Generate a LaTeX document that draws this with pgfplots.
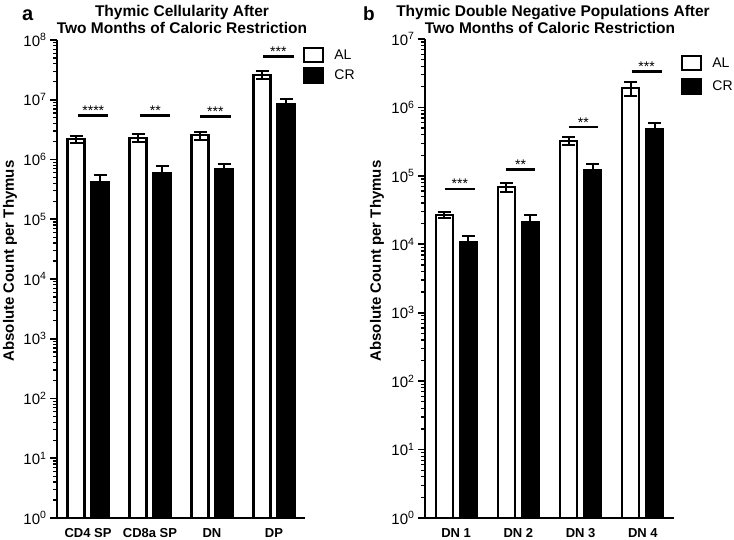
\documentclass[border=0pt]{standalone}
\usepackage{pgfplots}
\pgfplotsset{compat=1.18}
\usepackage{fontspec}
\setmainfont{Liberation Sans}
\pgfplotsset{
  alstyle/.style={draw=black, fill=white, line width=2.2pt, bar shift=-12pt,
    legend image code/.code={\draw[black, fill=white, line width=2.2pt] (0pt,-7pt) rectangle (19pt,7pt);},
    error bars/.cd, y dir=both, y explicit,
    error bar style={line width=2pt, black},
    error mark options={rotate=90, line width=2pt, mark size=6.5pt, black}},
  crstyle/.style={draw=black, fill=black, line width=2.2pt, bar shift=12pt,
    legend image code/.code={\draw[black, fill=black, line width=2.2pt] (0pt,-7pt) rectangle (19pt,7pt);},
    error bars/.cd, y dir=both, y explicit,
    error bar style={line width=2pt, black},
    error mark options={rotate=90, line width=2pt, mark size=6.5pt, black}},
}
\tikzset{sig/.style={font=\fontsize{14}{16}\selectfont, anchor=base, inner sep=0pt}}
\begin{document}
\begin{tikzpicture}[x=1pt,y=1pt]
\useasboundingbox (0pt,0pt) rectangle (734pt,539pt);
% Panel a
\begin{axis}[ymode=log, log basis y=10,
  scale only axis,
  axis x line=bottom, axis y line=left,
  axis line style={line width=2.2pt, -},
  xmin=-0.5, xmax=3.5,
  xtick={0,1,2,3},
  xtick style={draw=none},
  ytick style={draw=black, line width=1.8pt},
  tick align=outside,
  major tick length=7pt,
  tick label style={font=\fontsize{15}{17}\selectfont},
  xticklabel style={font=\fontsize{13}{15}\selectfont\bfseries},
  ybar, bar width=17pt,
  legend style={draw=none, fill=none, font=\fontsize{14}{16}\selectfont,
    anchor=north west, inner sep=0pt,
    /tikz/every odd column/.append style={column sep=8pt}},
  legend cell align=left,
  clip=false,
  at={(57pt,21pt)}, anchor=south west,
  width=248pt, height=478pt,
  ymin=1, ymax=1e8,
  ytick={1,10,100,1000,10000,100000,1000000,10000000,100000000},
  extra y ticks={2,3,4,5,6,7,8,9,20,30,40,50,60,70,80,90,200,300,400,500,600,700,800,900,2e3,3e3,4e3,5e3,6e3,7e3,8e3,9e3,2e4,3e4,4e4,5e4,6e4,7e4,8e4,9e4,2e5,3e5,4e5,5e5,6e5,7e5,8e5,9e5,2e6,3e6,4e6,5e6,6e6,7e6,8e6,9e6,2e7,3e7,4e7,5e7,6e7,7e7,8e7,9e7},
  extra y tick labels={},
  extra y tick style={major tick length=4pt, ytick style={draw=black, line width=1.3pt}},
  yticklabels={10\textsuperscript{0},10\textsuperscript{1},10\textsuperscript{2},10\textsuperscript{3},10\textsuperscript{4},10\textsuperscript{5},10\textsuperscript{6},10\textsuperscript{7},10\textsuperscript{8}},
  xticklabels={CD4 SP, CD8a SP, DN, DP},
  legend style={at={(1,1)}, xshift=-2pt, yshift=-7pt, row sep=4pt},
]
\addplot[alstyle] table[x=x, y=y, y error=e] {
x y e
0 2180000 270000
1 2320000 350000
2 2540000 380000
3 26000000 4000000
};
\addlegendentry{AL}
\addplot[crstyle] table[x=x, y=y, y error=e] {
x y e
0 425000 115000
1 600000 190000
2 693000 157000
3 8400000 1800000
};
\addlegendentry{CR}
\draw[line width=2.5pt] (axis cs:-0.16,5.4e6) -- (axis cs:0.33,5.4e6) node[midway, sig] {****};
\draw[line width=2.5pt] (axis cs:0.84,5.4e6) -- (axis cs:1.33,5.4e6) node[midway, sig] {**};
\draw[line width=2.5pt] (axis cs:1.81,5.2e6) -- (axis cs:2.30,5.2e6) node[midway, sig] {***};
\draw[line width=2.5pt] (axis cs:2.82,5.25e7) -- (axis cs:3.32,5.25e7) node[midway, sig] {***};
\end{axis}
% Panel b
\begin{axis}[ymode=log, log basis y=10,
  scale only axis,
  axis x line=bottom, axis y line=left,
  axis line style={line width=2.2pt, -},
  xmin=-0.5, xmax=3.5,
  xtick={0,1,2,3},
  xtick style={draw=none},
  ytick style={draw=black, line width=1.8pt},
  tick align=outside,
  major tick length=7pt,
  tick label style={font=\fontsize{15}{17}\selectfont},
  xticklabel style={font=\fontsize{13}{15}\selectfont\bfseries},
  ybar, bar width=17pt,
  legend style={draw=none, fill=none, font=\fontsize{14}{16}\selectfont,
    anchor=north west, inner sep=0pt,
    /tikz/every odd column/.append style={column sep=8pt}},
  legend cell align=left,
  clip=false,
  at={(425pt,21pt)}, anchor=south west,
  width=249pt, height=479pt,
  ymin=1, ymax=1e7,
  ytick={1,10,100,1000,10000,100000,1000000,10000000},
  extra y ticks={2,3,4,5,6,7,8,9,20,30,40,50,60,70,80,90,200,300,400,500,600,700,800,900,2e3,3e3,4e3,5e3,6e3,7e3,8e3,9e3,2e4,3e4,4e4,5e4,6e4,7e4,8e4,9e4,2e5,3e5,4e5,5e5,6e5,7e5,8e5,9e5,2e6,3e6,4e6,5e6,6e6,7e6,8e6,9e6},
  extra y tick labels={},
  extra y tick style={major tick length=4pt, ytick style={draw=black, line width=1.3pt}},
  yticklabels={10\textsuperscript{0},10\textsuperscript{1},10\textsuperscript{2},10\textsuperscript{3},10\textsuperscript{4},10\textsuperscript{5},10\textsuperscript{6},10\textsuperscript{7}},
  xticklabels={DN 1, DN 2, DN 3, DN 4},
  legend style={at={(1,1)}, xshift=7pt, yshift=-16pt, row sep=7pt},
]
\addplot[alstyle] table[x=x, y=y, y error=e] {
x y e
0 26700 2500
1 68000 9700
2 326000 43000
3 1900000 430000
};
\addlegendentry{AL}
\addplot[crstyle] table[x=x, y=y, y error=e] {
x y e
0 10900 2300
1 21300 5400
2 122000 28000
3 483000 107000
};
\addlegendentry{CR}
\draw[line width=2.5pt] (axis cs:-0.18,6.47e4) -- (axis cs:0.30,6.47e4) node[midway, sig] {***};
\draw[line width=2.5pt] (axis cs:0.80,1.245e5) -- (axis cs:1.27,1.245e5) node[midway, sig] {**};
\draw[line width=2.5pt] (axis cs:1.81,5.17e5) -- (axis cs:2.28,5.17e5) node[midway, sig] {**};
\draw[line width=2.5pt] (axis cs:2.82,3.37e6) -- (axis cs:3.30,3.37e6) node[midway, sig] {***};
\end{axis}
% Titles and labels
\node[anchor=base, font=\fontsize{15.5}{17}\selectfont\bfseries] at (182pt,522pt) {Thymic Cellularity After};
\node[anchor=base, font=\fontsize{15.5}{17}\selectfont\bfseries] at (182pt,505pt) {Two Months of Caloric Restriction};
\node[anchor=base, font=\fontsize{15.5}{17}\selectfont\bfseries] at (553pt,522pt) {Thymic Double Negative Populations After};
\node[anchor=base, font=\fontsize{15.5}{17}\selectfont\bfseries] at (550pt,505pt) {Two Months of Caloric Restriction};
\node[anchor=base west, font=\fontsize{20}{22}\selectfont\bfseries, inner sep=0pt] at (22pt,518pt) {a};
\node[anchor=base west, font=\fontsize{19}{22}\selectfont\bfseries, inner sep=0pt] at (363pt,518pt) {b};
\node[rotate=90, font=\fontsize{15}{17}\selectfont\bfseries] at (10pt,278pt) {Absolute Count per Thymus};
\node[rotate=90, font=\fontsize{15}{17}\selectfont\bfseries] at (377pt,278pt) {Absolute Count per Thymus};
\end{tikzpicture}
\end{document}
